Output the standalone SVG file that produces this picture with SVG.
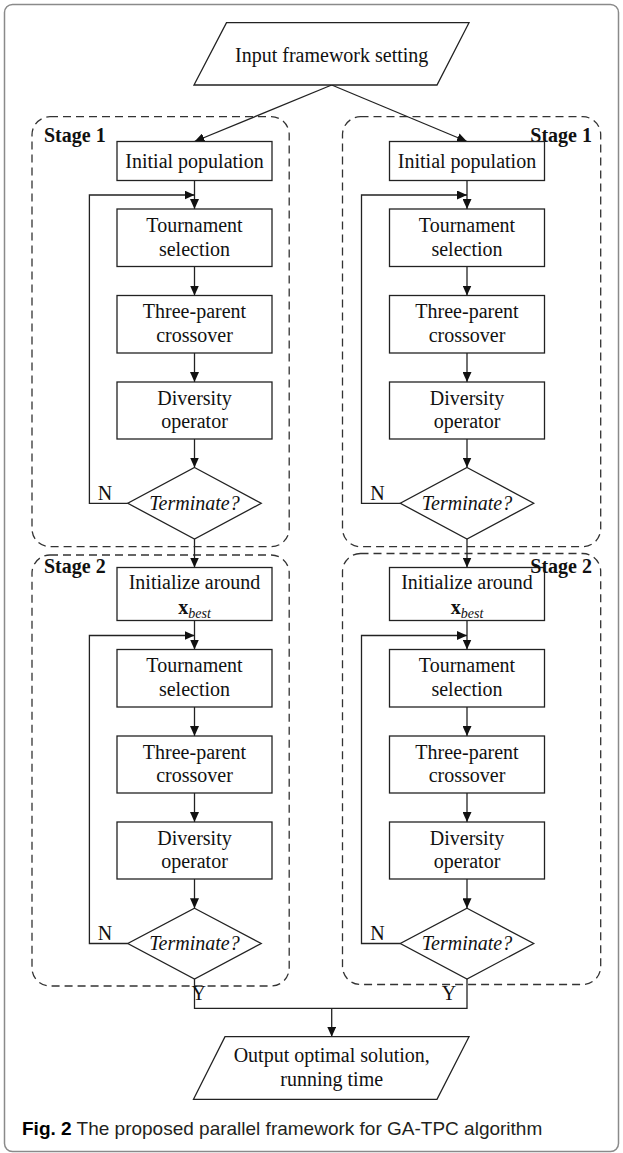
<svg xmlns="http://www.w3.org/2000/svg" width="623" height="1153" viewBox="0 0 623 1153">
<style>
.frame{fill:#fff;stroke:#8a8a8a;stroke-width:1.5}
.box{fill:#fff;stroke:#222;stroke-width:1.3}
.stage{fill:none;stroke:#333;stroke-width:1.3;stroke-dasharray:8 5}
.ln{fill:none;stroke:#222;stroke-width:1.3}
.t{font-family:"Liberation Serif","Times New Roman",serif;font-size:20px;fill:#111;text-anchor:middle}
.lbl{font-family:"Liberation Serif","Times New Roman",serif;font-size:20px;font-weight:bold;fill:#111}
.it{font-style:italic}
.cap{font-family:"Liberation Sans",Arial,sans-serif;font-size:19px;fill:#231f20}
</style>
<defs>
<marker id="ah" markerUnits="userSpaceOnUse" markerWidth="10" markerHeight="9" refX="10" refY="4.5" orient="auto">
<path d="M0,0 L10,4.5 L0,9 z" fill="#111"/>
</marker>
</defs>
<rect class="frame" x="4.5" y="4.5" width="614" height="1147" rx="8"/>

<g id="stages">
<rect id="stage1-left" class="stage" x="32" y="116.7" width="257.2" height="430" rx="18"/>
<rect id="stage1-right" class="stage" x="342.5" y="116.7" width="258.2" height="430" rx="18"/>
<rect id="stage2-left" class="stage" x="32" y="555" width="257.2" height="431" rx="18"/>
<rect id="stage2-right" class="stage" x="342.5" y="553.5" width="258.2" height="431" rx="18"/>
<text class="lbl" x="44" y="142">Stage 1</text>
<text class="lbl" x="592" y="142" text-anchor="end">Stage 1</text>
<text class="lbl" x="44" y="572.5">Stage 2</text>
</g>

<g id="connectors">
<line class="ln" x1="331.7" y1="85" x2="194.5" y2="141.5" marker-end="url(#ah)"/>
<line class="ln" x1="331.7" y1="85" x2="467" y2="141.5" marker-end="url(#ah)"/>
<!-- left column -->
<line class="ln" x1="194.5" y1="180.5" x2="194.5" y2="209" marker-end="url(#ah)"/>
<polyline class="ln" points="127.8,503.3 89.4,503.3 89.4,195 194.5,195" marker-end="url(#ah)"/>
<line class="ln" x1="194.5" y1="266.5" x2="194.5" y2="295.5" marker-end="url(#ah)"/>
<line class="ln" x1="194.5" y1="353" x2="194.5" y2="382" marker-end="url(#ah)"/>
<line class="ln" x1="194.5" y1="439" x2="194.5" y2="467.5" marker-end="url(#ah)"/>
<line class="ln" x1="194.5" y1="539" x2="194.5" y2="567.5" marker-end="url(#ah)"/>
<line class="ln" x1="194.5" y1="620.5" x2="194.5" y2="649.5" marker-end="url(#ah)"/>
<polyline class="ln" points="127.8,943.5 89.4,943.5 89.4,635.5 194.5,635.5" marker-end="url(#ah)"/>
<line class="ln" x1="194.5" y1="707" x2="194.5" y2="736" marker-end="url(#ah)"/>
<line class="ln" x1="194.5" y1="793" x2="194.5" y2="822" marker-end="url(#ah)"/>
<line class="ln" x1="194.5" y1="879" x2="194.5" y2="908.3" marker-end="url(#ah)"/>
<!-- right column -->
<line class="ln" x1="467" y1="180.5" x2="467" y2="209" marker-end="url(#ah)"/>
<polyline class="ln" points="400.3,503.3 361.5,503.3 361.5,195 467,195" marker-end="url(#ah)"/>
<line class="ln" x1="467" y1="266.5" x2="467" y2="295.5" marker-end="url(#ah)"/>
<line class="ln" x1="467" y1="353" x2="467" y2="382" marker-end="url(#ah)"/>
<line class="ln" x1="467" y1="439" x2="467" y2="467.5" marker-end="url(#ah)"/>
<line class="ln" x1="467" y1="539" x2="467" y2="567.5" marker-end="url(#ah)"/>
<line class="ln" x1="467" y1="620.5" x2="467" y2="649.5" marker-end="url(#ah)"/>
<polyline class="ln" points="400.3,943.5 361.5,943.5 361.5,635.5 467,635.5" marker-end="url(#ah)"/>
<line class="ln" x1="467" y1="707" x2="467" y2="736" marker-end="url(#ah)"/>
<line class="ln" x1="467" y1="793" x2="467" y2="822" marker-end="url(#ah)"/>
<line class="ln" x1="467" y1="879" x2="467" y2="908.3" marker-end="url(#ah)"/>
<!-- merge -->
<polyline class="ln" points="194.5,979 194.5,1008.3 467,1008.3 467,979"/>
<line class="ln" x1="331.7" y1="1008.3" x2="331.7" y2="1036.7" marker-end="url(#ah)"/>
<text class="t" x="105" y="499.5" text-anchor="start">N</text>
<text class="t" x="377.4" y="499.5" text-anchor="start">N</text>
<text class="t" x="105" y="939.5" text-anchor="start">N</text>
<text class="t" x="377.4" y="939.5" text-anchor="start">N</text>
<text class="t" x="198.7" y="1000" text-anchor="start">Y</text>
<text class="t" x="449" y="1000" text-anchor="start">Y</text>
</g>

<g id="input">
<polygon class="box" points="226.5,22.7 469,22.7 437,85 194,85"/>
<text class="t" x="331.7" y="61.5">Input framework setting</text>
</g>

<g id="init-pop-left">
<rect class="box" x="117" y="141.5" width="155" height="39"/>
<text class="t" x="194.5" y="167.5">Initial population</text>
</g>
<g id="tour1-left">
<rect class="box" x="117" y="209" width="155" height="57.5"/>
<text class="t" x="194.5" y="231.7">Tournament</text>
<text class="t" x="194.5" y="255.5">selection</text>
</g>
<g id="three1-left">
<rect class="box" x="117" y="295.5" width="155" height="57.5"/>
<text class="t" x="194.5" y="318.3">Three-parent</text>
<text class="t" x="194.5" y="342">crossover</text>
</g>
<g id="div1-left">
<rect class="box" x="117" y="382" width="155" height="57"/>
<text class="t" x="194.5" y="404.5">Diversity</text>
<text class="t" x="194.5" y="428">operator</text>
</g>
<g id="term1-left">
<polygon class="box" points="194.5,467.5 261.2,503.3 194.5,539 127.8,503.3"/>
<text class="t it" x="194.5" y="509.5">Terminate?</text>
</g>
<g id="initx-left">
<rect class="box" x="117" y="567.5" width="155" height="53"/>
<text class="t" x="194.5" y="588.5">Initialize around</text>
<text class="t" x="194.5" y="613.5"><tspan font-weight="bold">x</tspan><tspan class="it" font-size="14" dy="4">best</tspan></text>
</g>
<g id="tour2-left">
<rect class="box" x="117" y="649.5" width="155" height="57.5"/>
<text class="t" x="194.5" y="672.2">Tournament</text>
<text class="t" x="194.5" y="696">selection</text>
</g>
<g id="three2-left">
<rect class="box" x="117" y="736" width="155" height="57"/>
<text class="t" x="194.5" y="758.7">Three-parent</text>
<text class="t" x="194.5" y="782.4">crossover</text>
</g>
<g id="div2-left">
<rect class="box" x="117" y="822" width="155" height="57"/>
<text class="t" x="194.5" y="844.5">Diversity</text>
<text class="t" x="194.5" y="868">operator</text>
</g>
<g id="term2-left">
<polygon class="box" points="194.5,908.3 261.2,943.5 194.5,979 127.8,943.5"/>
<text class="t it" x="194.5" y="949.7">Terminate?</text>
</g>

<g id="init-pop-right">
<rect class="box" x="389.5" y="141.5" width="155" height="39"/>
<text class="t" x="467" y="167.5">Initial population</text>
</g>
<g id="tour1-right">
<rect class="box" x="389.5" y="209" width="155" height="57.5"/>
<text class="t" x="467" y="231.7">Tournament</text>
<text class="t" x="467" y="255.5">selection</text>
</g>
<g id="three1-right">
<rect class="box" x="389.5" y="295.5" width="155" height="57.5"/>
<text class="t" x="467" y="318.3">Three-parent</text>
<text class="t" x="467" y="342">crossover</text>
</g>
<g id="div1-right">
<rect class="box" x="389.5" y="382" width="155" height="57"/>
<text class="t" x="467" y="404.5">Diversity</text>
<text class="t" x="467" y="428">operator</text>
</g>
<g id="term1-right">
<polygon class="box" points="467,467.5 533.7,503.3 467,539 400.3,503.3"/>
<text class="t it" x="467" y="509.5">Terminate?</text>
</g>
<g id="initx-right">
<rect class="box" x="389.5" y="567.5" width="155" height="53"/>
<text class="t" x="467" y="588.5">Initialize around</text>
<text class="t" x="467" y="613.5"><tspan font-weight="bold">x</tspan><tspan class="it" font-size="14" dy="4">best</tspan></text>
</g>
<g id="tour2-right">
<rect class="box" x="389.5" y="649.5" width="155" height="57.5"/>
<text class="t" x="467" y="672.2">Tournament</text>
<text class="t" x="467" y="696">selection</text>
</g>
<g id="three2-right">
<rect class="box" x="389.5" y="736" width="155" height="57"/>
<text class="t" x="467" y="758.7">Three-parent</text>
<text class="t" x="467" y="782.4">crossover</text>
</g>
<g id="div2-right">
<rect class="box" x="389.5" y="822" width="155" height="57"/>
<text class="t" x="467" y="844.5">Diversity</text>
<text class="t" x="467" y="868">operator</text>
</g>
<g id="term2-right">
<polygon class="box" points="467,908.3 533.7,943.5 467,979 400.3,943.5"/>
<text class="t it" x="467" y="949.7">Terminate?</text>
</g>

<text class="lbl" x="592" y="572.5" text-anchor="end">Stage 2</text>

<g id="output">
<polygon class="box" points="225,1036.7 469,1036.7 437,1099.3 193.5,1099.3"/>
<text class="t" x="331.7" y="1062">Output optimal solution,</text>
<text class="t" x="331.7" y="1085.5">running time</text>
</g>

<text class="cap" x="22" y="1134.5"><tspan font-weight="bold" fill="#000">Fig. 2</tspan> The proposed parallel framework for GA-TPC algorithm</text>
</svg>
